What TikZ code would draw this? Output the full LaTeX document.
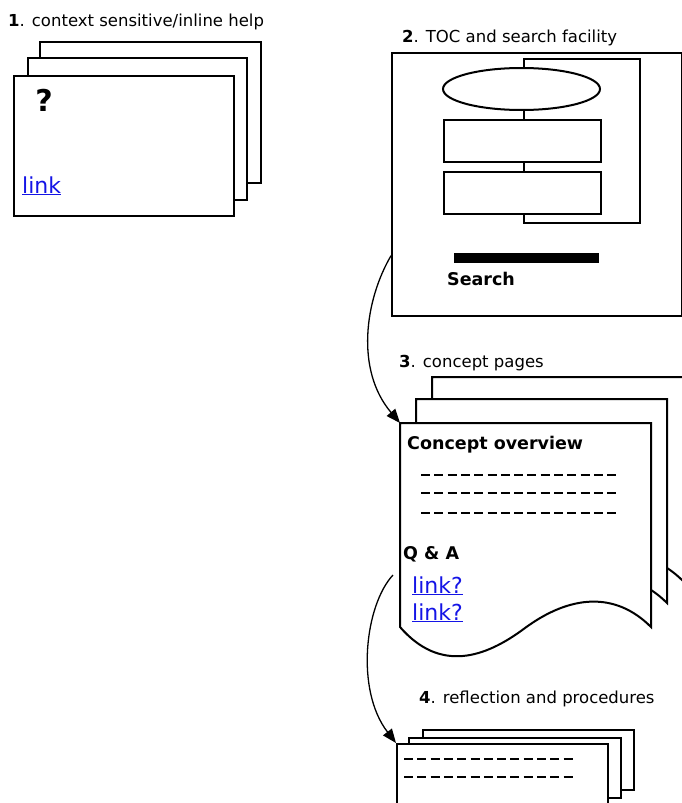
\documentclass[tikz,border=0pt]{standalone}
\usepackage{fontspec}
\setmainfont{DejaVu Sans}
\usetikzlibrary{arrows.meta}
\definecolor{linkblue}{RGB}{20,20,230}
\tikzset{
  ln/.style={line width=2pt},
  sheet/.style={ln, draw, fill=white, inner sep=0pt, anchor=north west},
  caption/.style={anchor=base west, inner sep=0pt, font=\fontsize{16.5}{19}\selectfont},
  heading/.style={anchor=base west, inner sep=0pt, font=\bfseries\fontsize{17.5}{20}\selectfont},
  hyper/.style={anchor=base west, inner sep=0pt, text=linkblue, font=\fontsize{22}{26}\selectfont},
  filler/.style={line width=1.8pt, dash pattern=on 9pt off 4.3pt},
  flow/.style={line width=1.3pt, -{Triangle[length=14pt,width=11pt]}},
  % page with a wavy lower edge (document symbol)
  docsheet/.pic={
    \draw[ln, fill=white] (0,0) -- (251,0) -- (251,204)
      .. controls (215,168) and (170,172) .. (125,205)
      .. controls (85,235) and (40,250) .. (0,204) -- cycle;
    \coordinate (-nw) at (0,0);
  }
}
\begin{document}
\begin{tikzpicture}[x=1pt,y=-1pt]
\clip (0,0) rectangle (682,803);
\fill[white] (0,0) rectangle (682,803);

% 1. context sensitive / inline help
\node[caption] (cap1) at (8,26.7) {\textbf{1}. context sensitive/inline help};
\node[sheet, minimum width=221pt, minimum height=141pt] (h1back) at (39,41) {};
\node[sheet, minimum width=219pt, minimum height=142pt] (h1mid) at (27,57) {};
\node[sheet, minimum width=220pt, minimum height=140pt] (h1front) at (13,75) {};
\node[anchor=base, inner sep=0pt, font=\bfseries\fontsize{30}{34}\selectfont] (qmark) at (44,111.5) {?};
\node[hyper] (link1) at (22,193) {\underline{link}};

% 2. TOC and search facility
\node[caption] (cap2) at (402,42.5) {\textbf{2}. TOC and search facility};
\node[sheet, minimum width=290pt, minimum height=263pt] (toc) at (391,52) {};
\draw[ln] (524,59) rectangle (640,223);
\draw[ln, fill=white] (521.5,89) ellipse [x radius=78.5, y radius=21];
\node[sheet, minimum width=157pt, minimum height=42pt] (tocbox1) at (443,119) {};
\node[sheet, minimum width=157pt, minimum height=42pt] (tocbox2) at (443,171) {};
\fill (454,253) rectangle (599,263);
\node[heading] (search) at (447,285) {Search};

% 3. concept pages
\node[caption] (cap3) at (399,367) {\textbf{3}. concept pages};
\pic (c3back) at (432,377) {docsheet};
\pic (c3mid) at (416,399) {docsheet};
\pic (c3front) at (400,423) {docsheet};
\node[heading] (overview) at (407,449) {Concept overview};
\foreach \yy in {475,493,513} \draw[filler] (421,\yy) -- (620,\yy);
\node[heading] (qa) at (403,559) {Q \& A};
\node[hyper] (link2) at (412,593) {\underline{link?}};
\node[hyper] (link3) at (412,620) {\underline{link?}};

% 4. reflection and procedures
\node[caption] (cap4) at (419,703) {\textbf{4}. reflection and procedures};
\node[sheet, minimum width=211pt, minimum height=60pt] (r4back) at (422,729) {};
\node[sheet, minimum width=212pt, minimum height=60pt] (r4mid) at (408,737) {};
\node[sheet, minimum width=211pt, minimum height=80pt] (r4front) at (396,743) {};
\foreach \yy in {759,777} \draw[filler] (404,\yy) -- (573,\yy);

% navigation between the stages
\coordinate (qaout) at (393,575);
\draw[flow] (toc.206.5) .. controls (365,300) and (355,370) .. (c3front-nw);
\draw[flow] (qaout) .. controls (365,605) and (355,690) .. (r4front.north west);
\end{tikzpicture}
\end{document}
